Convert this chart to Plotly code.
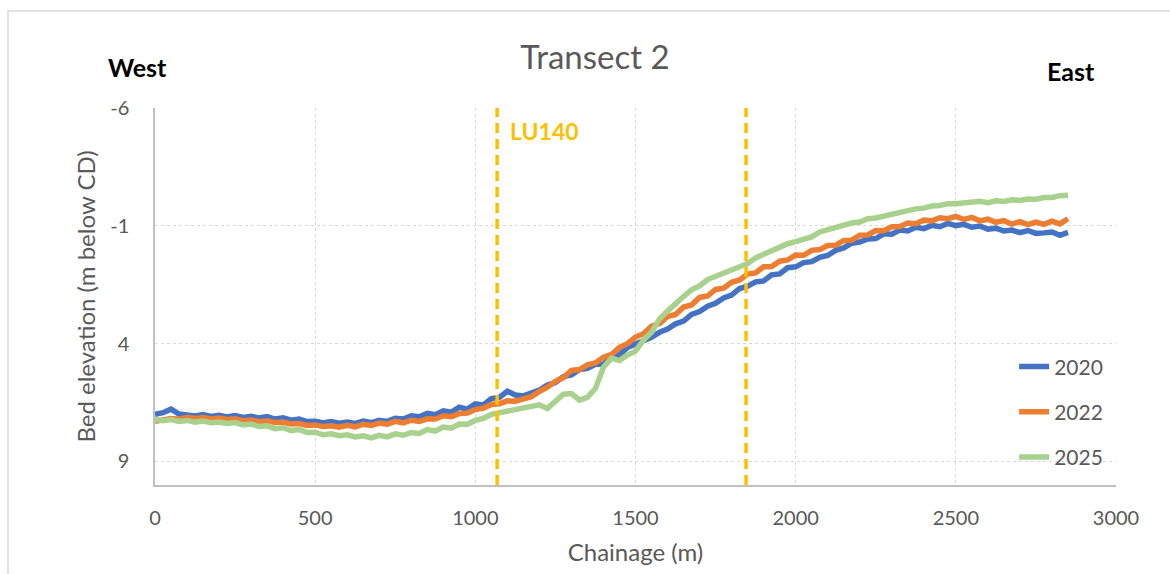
import plotly.graph_objects as go

# ---------------- data ----------------
chainage = list(range(0, 2851, 25))  # m

elev_2020 = [7.00, 6.93, 6.78, 6.99, 7.03, 7.07, 7.01, 7.09, 7.04, 7.11,
             7.05, 7.13, 7.08, 7.16, 7.10, 7.20, 7.15, 7.25, 7.20, 7.31,
             7.29, 7.37, 7.31, 7.38, 7.33, 7.39, 7.29, 7.35, 7.25, 7.30,
             7.17, 7.20, 7.06, 7.10, 6.96, 7.02, 6.85, 6.91, 6.70, 6.78,
             6.56, 6.60, 6.33, 6.28, 6.02, 6.18, 6.22, 6.08, 5.97, 5.76,
             5.65, 5.40, 5.33, 5.10, 5.05, 4.88, 4.88, 4.58, 4.48, 4.16,
             4.03, 3.85, 3.73, 3.52, 3.38, 3.16, 3.04, 2.76, 2.64, 2.41,
             2.29, 2.06, 1.94, 1.66, 1.56, 1.38, 1.34, 1.08, 1.04, 0.78,
             0.74, 0.56, 0.52, 0.34, 0.26, 0.04, -0.06, -0.26, -0.31, -0.44,
             -0.46, -0.66, -0.64, -0.82, -0.78, -0.94, -0.88, -1.02, -0.96, -1.10,
             -1.01, -1.06, -0.94, -0.99, -0.86, -0.90, -0.78, -0.82, -0.71, -0.80,
             -0.68, -0.70, -0.74, -0.60, -0.72]

elev_2022 = [7.30, 7.24, 7.18, 7.21, 7.13, 7.18, 7.14, 7.20, 7.16, 7.22,
             7.19, 7.27, 7.24, 7.31, 7.27, 7.35, 7.33, 7.41, 7.39, 7.47,
             7.45, 7.52, 7.49, 7.55, 7.47, 7.53, 7.42, 7.47, 7.37, 7.42,
             7.30, 7.36, 7.25, 7.30, 7.19, 7.20, 7.06, 7.10, 6.97, 6.95,
             6.80, 6.74, 6.58, 6.55, 6.43, 6.44, 6.32, 6.25, 6.03, 5.85,
             5.60, 5.44, 5.14, 5.10, 4.90, 4.82, 4.58, 4.46, 4.16, 4.00,
             3.72, 3.58, 3.26, 3.15, 2.85, 2.76, 2.45, 2.36, 2.04, 1.98,
             1.70, 1.65, 1.40, 1.30, 1.05, 1.00, 0.74, 0.73, 0.50, 0.45,
             0.24, 0.25, 0.04, 0.01, -0.16, -0.17, -0.38, -0.39, -0.60, -0.61,
             -0.80, -0.79, -0.96, -0.97, -1.12, -1.09, -1.24, -1.21, -1.34, -1.30,
             -1.40, -1.27, -1.36, -1.21, -1.28, -1.15, -1.22, -1.07, -1.18, -1.05,
             -1.16, -1.06, -1.20, -1.08, -1.30]

elev_2025 = [7.22, 7.27, 7.22, 7.30, 7.26, 7.34, 7.29, 7.36, 7.33, 7.39,
             7.35, 7.45, 7.41, 7.52, 7.49, 7.61, 7.57, 7.69, 7.65, 7.77,
             7.76, 7.87, 7.83, 7.91, 7.87, 7.96, 7.91, 8.00, 7.89, 7.96,
             7.83, 7.89, 7.77, 7.81, 7.65, 7.71, 7.54, 7.59, 7.41, 7.42,
             7.26, 7.17, 7.00, 6.94, 6.86, 6.82, 6.72, 6.68, 6.60, 6.75,
             6.45, 6.15, 6.12, 6.40, 6.28, 5.90, 5.00, 4.62, 4.72, 4.48,
             4.32, 3.85, 3.52, 2.95, 2.62, 2.28, 2.00, 1.72, 1.55, 1.28,
             1.14, 0.98, 0.88, 0.68, 0.60, 0.36, 0.22, 0.02, -0.10, -0.24,
             -0.33, -0.44, -0.53, -0.74, -0.83, -0.97, -1.03, -1.12, -1.16, -1.30,
             -1.33, -1.42, -1.48, -1.60, -1.63, -1.72, -1.75, -1.84, -1.86, -1.94,
             -1.94, -1.97, -1.96, -2.04, -1.98, -2.06, -2.03, -2.10, -2.08, -2.14,
             -2.13, -2.20, -2.20, -2.28, -2.30]

years = ["2020", "2022", "2025"]
series = [elev_2020, elev_2022, elev_2025]
colors = ["#4472C4", "#ED7D31", "#A9D18E"]

marker_chainage = [1068, 1845]   # yellow dashed reference lines
marker_label = "LU140"

x_ticks = [0, 500, 1000, 1500, 2000, 2500, 3000]
y_ticks = [-6, -1, 4, 9]

FONT = "Lato, 'Open Sans', sans-serif"
GREY = "#595959"

# ---------------- figure ----------------
fig = go.Figure()
for yr, vals, col in zip(years, series, colors):
    fig.add_trace(go.Scatter(
        x=chainage, y=vals, mode="lines", name=yr, legendgroup=yr,
        line=dict(color=col, width=5.5),
    ))

shapes = []
for xm in marker_chainage:
    shapes.append(dict(type="line", xref="x", yref="paper", x0=xm, x1=xm, y0=0, y1=1,
                       line=dict(color="#FFC000", width=3.5, dash="10px,6px")))
# outer chart border
shapes.append(dict(type="rect", xref="paper", yref="paper",
                   x0=-0.153, x1=1.07, y0=-0.35, y1=1.2573,
                   line=dict(color="#D9D9D9", width=1.5), layer="below"))

annotations = [
    dict(text="<b>West</b>", x=-0.0187, y=1.108, xref="paper", yref="paper",
         showarrow=False, font=dict(family=FONT, size=25, color="#000000"),
         xanchor="center", yanchor="middle"),
    dict(text="<b>East</b>", x=0.953, y=1.098, xref="paper", yref="paper",
         showarrow=False, font=dict(family=FONT, size=25, color="#000000"),
         xanchor="center", yanchor="middle"),
    dict(text="<b>" + marker_label + "</b>", x=0.367, y=0.939, xref="paper", yref="paper",
         showarrow=False, font=dict(family=FONT, size=23, color="#FFC000"),
         xanchor="left", yanchor="middle"),
]

fig.update_layout(
    width=1170, height=574,
    margin=dict(l=155, r=54, t=108, b=89),
    paper_bgcolor="white", plot_bgcolor="white",
    title=dict(text="Transect 2", x=0.5085, y=0.9007, xanchor="center", yanchor="middle",
               font=dict(family=FONT, size=33, color=GREY)),
    font=dict(family=FONT, color=GREY),
    shapes=shapes,
    annotations=annotations,
    showlegend=True,
    legend=dict(x=0.894, y=0.368, xanchor="left", yanchor="top",
                font=dict(family=FONT, size=21, color=GREY),
                bgcolor="rgba(0,0,0,0)", tracegroupgap=15),
)

fig.update_xaxes(
    range=[0, 3000], tickvals=x_ticks, ticktext=[str(v) for v in x_ticks],
    showgrid=True, gridcolor="#D9D9D9", griddash="dot", gridwidth=1,
    showline=True, linecolor="#BFBFBF", linewidth=1.5,
    zeroline=False, ticks="", ticklabelstandoff=14,
    tickfont=dict(family=FONT, size=20, color=GREY),
    title=dict(text="Chainage (m)", font=dict(family=FONT, size=24, color=GREY), standoff=16),
)
fig.update_yaxes(
    range=[10, -6], tickvals=y_ticks, ticktext=[str(v) for v in y_ticks],
    showgrid=True, gridcolor="#D9D9D9", griddash="dot", gridwidth=1,
    showline=True, linecolor="#BFBFBF", linewidth=1.5,
    zeroline=False, ticks="", ticklabelstandoff=20,
    tickfont=dict(family=FONT, size=20, color=GREY),
    title=dict(text="Bed elevation (m below CD)", font=dict(family=FONT, size=24, color=GREY), standoff=8),
)

fig.write_html("out.html", config={"displayModeBar": False},
               post_script="document.body.style.margin='0';")
